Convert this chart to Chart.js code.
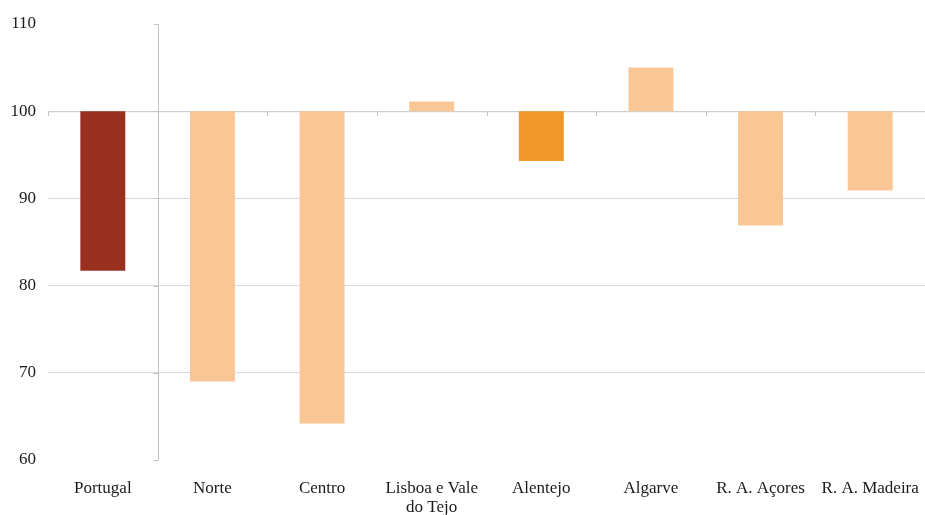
<!DOCTYPE html>
<html lang="pt">
<head>
<meta charset="utf-8">
<title>Índice regional</title>
<script src="https://cdn.jsdelivr.net/npm/chart.js@4"></script>
<style>
    html, body { margin: 0; padding: 0; background: #fff; }
    #wrap { width: 925px; height: 515px; position: relative; }
</style>
</head>
<body>
<div id="wrap"><canvas id="regionChart"></canvas></div>
<script>
// Regiões e índice (Portugal = base 100 no eixo)
const regioes = ['Portugal', 'Norte', 'Centro', ['Lisboa e Vale', 'do Tejo'], 'Alentejo', 'Algarve', 'R. A. Açores', 'R. A. Madeira'];
const indice = [81.7, 69.0, 64.2, 101.1, 94.3, 105.0, 86.9, 90.9];
const base = 100;
const coresBarras = ['#9a3120', '#f8c795', '#f8c795', '#f8c795', '#f0972a', '#f8c795', '#f8c795', '#f8c795'];
const yTicks = [60, 70, 80, 90, 100, 110];

const SERIF = '"Liberation Serif", "Times New Roman", serif';
const AXIS_GREY = '#c4c4c4';

// eixo horizontal em 100 e eixo vertical entre a 1.ª e 2.ª categoria
const axisLines = {
    id: 'axisLines',
    beforeDatasetsDraw(chart) {
        const { ctx, chartArea, scales: { x, y } } = chart;
        const y100 = y.getPixelForValue(base);
        const step = x.getPixelForValue(1) - x.getPixelForValue(0);
        ctx.save();
        ctx.strokeStyle = AXIS_GREY;
        ctx.lineWidth = 1;
        ctx.beginPath();
        ctx.moveTo(chartArea.left, y100 + 0.5);
        ctx.lineTo(chartArea.right, y100 + 0.5);
        for (let i = 0; i <= regioes.length; i++) {
            const bx = Math.round(x.getPixelForValue(i) - step / 2) + 0.5;
            ctx.moveTo(bx, y100);
            ctx.lineTo(bx, y100 + 5);
        }
        const vx = Math.round(x.getPixelForValue(0) + step / 2) + 0.5;
        ctx.moveTo(vx, y.getPixelForValue(yTicks[yTicks.length - 1]));
        ctx.lineTo(vx, y.getPixelForValue(yTicks[0]));
        yTicks.forEach(t => {
            const ty = Math.round(y.getPixelForValue(t)) + 0.5;
            ctx.moveTo(vx - 5, ty);
            ctx.lineTo(vx, ty);
        });
        ctx.stroke();
        ctx.restore();
    }
};

new Chart(document.getElementById('regionChart'), {
    type: 'bar',
    data: {
        labels: regioes,
        datasets: [{
            data: indice.map(v => [base, v]),
            backgroundColor: coresBarras,
            borderWidth: 0,
            barPercentage: 0.41,
            categoryPercentage: 1
        }]
    },
    options: {
        responsive: true,
        maintainAspectRatio: false,
        animation: false,
        layout: { padding: { top: 24, right: 0, bottom: 0, left: 0 } },
        plugins: { legend: { display: false }, tooltip: { enabled: false } },
        scales: {
            x: {
                grid: { display: false },
                border: { display: false },
                ticks: {
                    color: '#1a1a1a',
                    font: { family: SERIF, size: 17, lineHeight: 1.12 },
                    padding: 11,
                    maxRotation: 0,
                    autoSkip: false
                },
                afterFit: s => {
                    s.height = 55;
                    s.paddingLeft = 0;
                    s.paddingRight = 0;
                }
            },
            y: {
                min: 60, max: 110,
                afterBuildTicks: s => { s.ticks = yTicks.map(v => ({ value: v })); },
                grid: {
                    drawTicks: false,
                    color: c => (c.tick && [70, 80, 90].includes(c.tick.value)) ? '#d9d9d9' : 'rgba(0,0,0,0)'
                },
                border: { display: false },
                ticks: {
                    color: '#1a1a1a',
                    font: { family: SERIF, size: 17 },
                    padding: 12
                },
                afterFit: s => { s.width = 48; }
            }
        }
    },
    plugins: [axisLines]
});
</script>
</body>
</html>
